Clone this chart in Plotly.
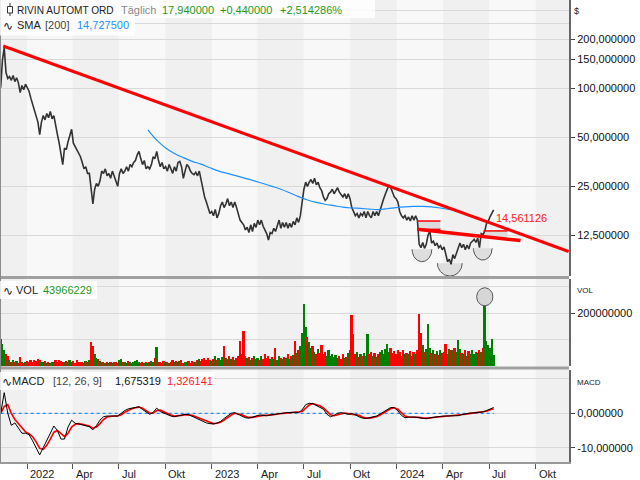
import math
import numpy as np
import pandas as pd
import plotly.graph_objects as go
from plotly.subplots import make_subplots

# ---------------- DATA ----------------
price_start = "2021-11-10"   # semi-weekly closes (every 3.5 days)
price_close = [
    101, 149, 178, 125, 115, 118, 112, 120, 110, 116,
    108, 94, 104, 98, 106, 101, 96, 87, 80, 75,
    68, 62, 52, 62, 68, 64, 70, 66, 72, 65,
    68, 58, 52, 46, 40, 34, 43, 42, 47, 52,
    56, 46, 44, 42, 40, 38, 35, 32, 33, 30,
    30, 25, 19.5, 24, 26, 25, 27, 31, 30, 32,
    29, 30, 28, 31, 29, 27, 25, 30, 32, 30,
    31, 33, 31, 34, 33, 35, 36, 39, 41, 37,
    34, 36, 32, 33, 32, 34, 38, 37, 41, 36,
    33, 35, 32, 33, 31, 34, 32, 30, 33, 31,
    35, 35.5, 33, 28, 31, 34, 33, 31, 30, 29.5,
    30.5, 29, 31, 27, 24, 21.5, 20, 18.5, 17, 17.5,
    16.5, 18, 16, 17, 19, 20, 18.5, 19.5, 21, 19,
    20, 18.5, 20, 18.5, 17, 15.5, 15, 14.5, 13.5, 14,
    13, 14.5, 13.2, 14.8, 14, 15.5, 14.5, 15.5, 14.2, 13.5,
    12.8, 11.7, 13, 12.8, 13.8, 13.2, 14.2, 15.5, 13.8, 15,
    14, 15, 13.8, 14.8, 14, 15.2, 14.5, 16, 15, 16.5,
    20, 24, 26.5, 25, 26.5, 27.5, 26, 28, 25.5, 26.5,
    24.5, 23.5, 21.5, 20.5, 21, 22.5, 23, 24, 22.5, 23.5,
    24.5, 23, 22, 21.5, 22.5, 21, 22.5, 21, 18.5, 17.5,
    16.5, 17, 16, 17, 16.5, 17.5, 16, 17.5, 16.5, 16,
    17.5, 16.5, 17.5, 16.5, 18, 19.5, 21, 22.5, 24, 25.5,
    24.5, 23, 21.5, 21, 20, 17.5, 16.5, 16, 16.5, 15.5,
    16.2, 15.3, 16.5, 15.5, 16.5, 15.5, 11, 10.5, 11.3, 10.4,
    11, 12.5, 13.3, 11.2, 11.5, 10.8, 11.2, 10.5, 10.8, 10.2,
    10.6, 9.6, 8.6, 8.9, 8.3, 9.5, 9.0, 9.7, 10.3, 11.2,
    10.5, 11, 10.2, 10.9, 10.3, 11.2, 11.5, 11.8, 11.3, 12,
    10.5, 12.8, 12.6, 13.3, 14.8, 15.3, 16.3, 17.0, 17.94,
]

volume_m = [
    103, 85, 60, 45, 38, 25, 18, 22, 15, 20,
    14, 35, 18, 12, 16, 20, 15, 22, 18, 25,
    20, 28, 24, 18, 16, 20, 14, 18, 12, 15,
    16, 22, 18, 24, 20, 18, 15, 20, 17, 24,
    16, 19, 14, 22, 17, 15, 18, 13, 20, 16,
    22, 90, 78, 45, 30, 28, 20, 15, 18, 14,
    16, 12, 17, 13, 15, 18, 14, 22, 28, 16,
    18, 14, 20, 16, 12, 15, 20, 25, 18, 14,
    16, 13, 18, 14, 17, 20, 15, 30, 74, 18,
    16, 14, 20, 15, 18, 13, 17, 22, 15, 19,
    16, 20, 25, 14, 18, 15, 21, 13, 19, 16,
    18, 22, 26, 20, 28, 32, 25, 30, 24, 20,
    28, 38, 25, 30, 22, 35, 78, 30, 26, 40,
    28, 36, 25, 30, 38, 94, 45, 132, 40, 30,
    35, 22, 30, 40, 26, 32, 24, 38, 28, 45,
    30, 40, 26, 35, 28, 70, 25, 38, 32, 28,
    35, 30, 45, 28, 38, 42, 96, 50, 60, 75,
    126, 235, 150, 110, 90, 70, 78, 55, 48, 65,
    50, 80, 45, 55, 40, 60, 38, 48, 35, 42,
    30, 38, 28, 45, 32, 36, 50, 60, 194, 122,
    45, 55, 35, 48, 40, 50, 38, 122, 45, 55,
    40, 52, 35, 45, 55, 60, 48, 65, 83, 55,
    70, 50, 58, 45, 62, 55, 40, 60, 48, 52,
    45, 58, 40, 55, 48, 60, 196, 126, 80, 55,
    65, 158, 70, 50, 60, 45, 58, 42, 60, 50,
    55, 83, 48, 65, 60, 60, 70, 55, 100, 65,
    52, 45, 60, 40, 58, 48, 62, 45, 55, 50,
    60, 55, 70, 245, 95, 80, 68, 103, 44,
]

# weekly MACD (12, 26, 9)
macd_line = [
    0, 6.0, 0.0, -3.5, -2.8, -4.5, -5.8, -5.8, -6.2, -8.0,
    -10.0, -12.1, -10.0, -8.0, -5.8, -3.7, -5.0, -7.5, -7.5, -4.0,
    -2.0, -2.9, -3.1, -3.4, -3.6, -3.9, -4.8, -3.6, -2.0, -1.0,
    -0.8, -0.8, -0.7, -0.8, 0.0, 0.8, 1.3, 1.5, 1.8, 1.9,
    1.1, 0.3, -0.3, 0.3, 1.5, 0.5, 0.0, -0.5, -0.8, -1.0,
    -0.7, -0.5, -0.3, -0.4, -0.9, -1.3, -1.8, -2.3, -2.8, -3.0,
    -3.1, -2.8, -2.4, -1.5, -0.7, 0.0, 0.2, -0.3, -0.7, -1.3,
    -1.4, -1.0, -0.8, -0.5, -0.6, -0.7, -0.5, -0.3, -0.1, 0.0,
    0.1, 0.2, 0.3, 0.3, 0.2, 1.0, 2.5, 2.9, 2.8, 2.3,
    1.9, 1.2, -0.3, -1.0, -0.6, 0.0, 0.2, 0.0, -0.3, -0.1,
    -0.4, -1.0, -1.4, -1.5, -1.3, -1.0, -0.8, -0.2, 0.5, 1.2,
    1.7, 1.6, 0.7, -0.6, -1.3, -1.1, -1.0, -1.1, -1.3, -1.5,
    -1.6, -1.3, -1.1, -1.0, -0.9, -0.8, -0.8, -0.7, -0.7, -0.7,
    -0.4, -0.1, 0.0, 0.1, 0.2, 0.3, 0.4, 0.8, 1.2, 1.675319,
]
macd_signal = [
    0, 2.0, 2.5, 0.0, -1.8, -3.0, -4.5, -5.4, -5.9, -6.8,
    -8.3, -10.2, -10.5, -9.3, -7.5, -5.5, -5.0, -6.0, -6.8, -5.8,
    -4.0, -3.2, -3.0, -3.2, -3.4, -3.7, -4.3, -4.0, -3.0, -1.8,
    -1.1, -0.9, -0.8, -0.8, -0.4, 0.3, 0.9, 1.3, 1.6, 1.8,
    1.5, 0.8, 0.1, 0.0, 0.8, 0.9, 0.4, -0.1, -0.5, -0.8,
    -0.8, -0.6, -0.4, -0.4, -0.6, -1.0, -1.4, -1.9, -2.4, -2.8,
    -3.0, -2.9, -2.6, -2.0, -1.2, -0.5, 0.0, -0.1, -0.4, -0.9,
    -1.2, -1.2, -1.0, -0.7, -0.6, -0.6, -0.6, -0.4, -0.2, -0.1,
    0.0, 0.1, 0.2, 0.3, 0.3, 0.5, 1.5, 2.4, 2.8, 2.6,
    2.2, 1.6, 0.6, -0.4, -0.7, -0.4, 0.0, 0.1, -0.1, -0.2,
    -0.3, -0.6, -1.1, -1.4, -1.4, -1.2, -1.0, -0.5, 0.1, 0.8,
    1.4, 1.6, 1.2, 0.2, -0.8, -1.1, -1.1, -1.1, -1.2, -1.4,
    -1.5, -1.4, -1.2, -1.1, -1.0, -0.9, -0.8, -0.8, -0.7, -0.7,
    -0.6, -0.3, -0.1, 0.0, 0.1, 0.2, 0.3, 0.6, 1.0, 1.326141,
]

# SMA 200, sampled every 5th semi-weekly point starting at index 83
sma_first_index = 83
sma_step = 5
sma_200 = [
    55.5, 48, 43.0, 39.8, 37.5, 35.6, 34.2, 32.5, 31.0, 30.0,
    29.0, 28.0, 27.0, 26.0, 25.0, 24.0, 22.8, 21.6, 20.6, 19.9,
    19.4, 19.0, 18.6, 18.4, 18.3, 18.1, 18.0, 18.2, 18.5, 18.7,
    18.8, 18.8, 18.7, 18.4, 18.0, 17.5, 16.9, 16.2, 15.3, 14.7275,
]

# drawing tools
trend_main_dates = ["2021-11-15", "2024-12-05"]
trend_main_vals = [181.9, 9.94]
trend_neck_dates = ["2024-02-10", "2024-09-01"]
trend_neck_vals = [13.6, 11.6]
range_boxes = [  # start, end, low, high
    ("2024-02-10", "2024-03-27", 13.6, 15.3),
    ("2024-06-20", "2024-08-06", 12.0, 13.3),
]
bowls = [  # start, end, top price, bottom price
    ("2024-01-31", "2024-03-10", 10.25, 8.61),
    ("2024-03-21", "2024-05-09", 8.42, 7.03),
    ("2024-05-31", "2024-07-07", 10.40, 8.81),
]
vol_marker = ("2024-06-22 12:00", 262e6, 16, 34e6)  # center date, center vol, half-width days, half-height

quarter_ticks = ["2022-01-01", "2022-04-01", "2022-07-01", "2022-10-01",
                 "2023-01-01", "2023-04-01", "2023-07-01", "2023-10-01",
                 "2024-01-01", "2024-04-01", "2024-07-01", "2024-10-01"]
quarter_labels = ["2022", "Apr", "Jul", "Okt", "2023", "Apr", "Jul", "Okt",
                  "2024", "Apr", "Jul", "Okt"]
shade_quarters = [("2021-10-01", "2022-01-01"), ("2022-04-01", "2022-07-01"),
                  ("2022-10-01", "2023-01-01"), ("2023-04-01", "2023-07-01"),
                  ("2023-10-01", "2024-01-01"), ("2024-04-01", "2024-07-01"),
                  ("2024-10-01", "2025-01-01")]

price_ticks = [12.5, 25, 50, 100, 150, 200]
price_ticktext = ["12,500000", "25,000000", "50,000000", "100,000000",
                  "150,000000", "200,000000"]
price_minor = [250, 300]
vol_ticks = [200e6]
vol_ticktext = ["200000000"]
vol_minor = [100e6, 300e6]
macd_ticks = [0, -10]
macd_ticktext = ["0,000000", "-10,000000"]
macd_minor = [10]

x_range = ["2021-11-08 16:00", "2024-12-05 17:00"]
price_range = [7.03, 348.7]
vol_range = [0, 329e6]
macd_range = [-14.16, 12.73]

# ---------------- FIGURE ----------------
W, H = 640, 480
ML, MR, MT, MB = 0, 71, 0, 18
PW, PH = W - ML - MR, H - MT - MB
FONT = "Liberation Sans, Arial, DejaVu Sans, sans-serif"


def px_x(px):
    return px / PW


def px_y(py):
    return (PH - py) / PH


dates = pd.date_range(price_start, periods=len(price_close), freq="84h")
macd_dates = pd.date_range(price_start, periods=len(macd_line), freq="7D")
sma_dates = dates[sma_first_index::sma_step][:len(sma_200)]

fig = make_subplots(rows=3, cols=1, shared_xaxes=True, vertical_spacing=0)

# range boxes (fills)
for (d0, d1, lo, hi) in range_boxes:
    fig.add_trace(go.Scatter(x=[d0, d1, d1, d0, d0], y=[lo, lo, hi, hi, lo],
                             fill="toself", fillcolor="#dcdcdc", mode="none",
                             hoverinfo="skip", showlegend=False), row=1, col=1)

# bowls
t = np.linspace(0, np.pi, 60)
for (d0, d1, top, bot) in bowls:
    s0, s1 = pd.Timestamp(d0), pd.Timestamp(d1)
    c = s0 + (s1 - s0) / 2
    half = (s1 - s0) / 2
    xs = [c + half * float(np.cos(a)) for a in t]
    ly = math.log10(top) - (math.log10(top) - math.log10(bot)) * np.sin(t)
    ys = list(10 ** ly)
    fig.add_trace(go.Scatter(x=xs + [xs[0]], y=ys + [ys[0]], fill="toself",
                             fillcolor="#dedede", mode="none", hoverinfo="skip",
                             showlegend=False), row=1, col=1)
    fig.add_trace(go.Scatter(x=xs, y=ys, mode="lines",
                             line=dict(color="#555555", width=1), hoverinfo="skip",
                             showlegend=False), row=1, col=1)

# price
fig.add_trace(go.Scatter(x=dates, y=price_close, mode="lines",
                         line=dict(color="#333333", width=1.6), showlegend=False),
              row=1, col=1)
# SMA
fig.add_trace(go.Scatter(x=sma_dates, y=sma_200, mode="lines",
                         line=dict(color="#1e90ff", width=1.2, shape="spline"),
                         showlegend=False), row=1, col=1)
# trend lines
fig.add_trace(go.Scatter(x=trend_main_dates, y=trend_main_vals, mode="lines",
                         line=dict(color="#ff0000", width=3), showlegend=False),
              row=1, col=1)
fig.add_trace(go.Scatter(x=trend_neck_dates, y=trend_neck_vals, mode="lines",
                         line=dict(color="#ff0000", width=3.5), showlegend=False),
              row=1, col=1)
for k, (d0, d1, lo, hi) in enumerate(range_boxes):
    fig.add_trace(go.Scatter(x=[d0, d1], y=[hi, hi], mode="lines",
                             line=dict(color="#ff0000", width=1.5), showlegend=False),
                  row=1, col=1)
    if k == 0:
        fig.add_trace(go.Scatter(x=[d0, d1], y=[lo, lo], mode="lines",
                                 line=dict(color="#ff0000", width=1.5), showlegend=False),
                      row=1, col=1)

# volume marker ellipse
vc, vv, vhw, vhh = vol_marker
vcs = pd.Timestamp(vc)
tt = np.linspace(0, 2 * np.pi, 60)
ex = [vcs + pd.Timedelta(days=vhw * float(np.cos(a))) for a in tt]
ey = list(vv + vhh * np.sin(tt))
fig.add_trace(go.Scatter(x=ex, y=ey, fill="toself", fillcolor="#d6d6d6", mode="lines",
                         line=dict(color="#555555", width=1), hoverinfo="skip",
                         showlegend=False), row=2, col=1)

# volume bars
vol_colors = ["#008000" if i == 0 or price_close[i] >= price_close[i - 1] else "#ff0000"
              for i in range(len(price_close))]
fig.add_trace(go.Bar(x=dates, y=[v * 1e6 for v in volume_m], marker_color=vol_colors,
                     marker_line_width=0, width=3.5 * 86400000, showlegend=False),
              row=2, col=1)

# MACD
fig.add_trace(go.Scatter(x=[dates[0], dates[-1]], y=[0, 0], mode="lines",
                         line=dict(color="#1e90ff", width=1.3, dash="dot"),
                         showlegend=False), row=3, col=1)
fig.add_trace(go.Scatter(x=macd_dates, y=macd_signal, mode="lines",
                         line=dict(color="#ff0000", width=1.6), showlegend=False),
              row=3, col=1)
fig.add_trace(go.Scatter(x=macd_dates, y=macd_line, mode="lines",
                         line=dict(color="#000000", width=1), showlegend=False),
              row=3, col=1)

GRID = "#d9d9d9"
yax_common = dict(side="right", ticks="outside", ticklen=4, tickcolor="#444",
                  showline=True, linecolor="#666666", linewidth=2, zeroline=False,
                  gridcolor=GRID, gridwidth=1, tickfont=dict(size=11, color="#111"),
                  fixedrange=True)

fig.update_layout(
    width=W, height=H, margin=dict(l=ML, r=MR, t=MT, b=MB),
    paper_bgcolor="white", plot_bgcolor="#f8f8f8",
    font=dict(family=FONT, size=11, color="#222"),
    bargap=0, showlegend=False,
    yaxis=dict(domain=[px_y(276), 1.0], type="log",
               range=[math.log10(price_range[0]), math.log10(price_range[1])],
               tickvals=price_ticks, ticktext=price_ticktext,
               minor=dict(tickvals=price_minor, showgrid=True, gridcolor=GRID, ticks=""),
               **yax_common),
    yaxis2=dict(domain=[px_y(366.3), px_y(279)], range=vol_range,
                tickvals=vol_ticks, ticktext=vol_ticktext,
                minor=dict(tickvals=vol_minor, showgrid=True, gridcolor=GRID, ticks=""),
                **yax_common),
    yaxis3=dict(domain=[0, px_y(369.5)], range=macd_range,
                tickvals=macd_ticks, ticktext=macd_ticktext,
                minor=dict(tickvals=macd_minor, showgrid=True, gridcolor=GRID, ticks=""),
                **yax_common),
)
for ax in ["xaxis", "xaxis2"]:
    fig.layout[ax].update(range=x_range, showgrid=False, showticklabels=False,
                          ticks="", zeroline=False)
fig.layout.xaxis3.update(range=x_range, showgrid=False, tickvals=quarter_ticks,
                         ticks="outside", ticklen=5, tickcolor="#555",
                         showticklabels=False, showline=True, linecolor="#999999",
                         linewidth=2, zeroline=False)

shapes = []
for (q0, q1) in shade_quarters:
    shapes.append(dict(type="rect", xref="x", yref="paper", x0=max(q0, x_range[0]),
                       x1=min(q1, x_range[1]), y0=0, y1=1, fillcolor="#f0f0f0",
                       line=dict(width=0), layer="below"))
# pane separators and borders
for py in (277.5, 367.9):
    shapes.append(dict(type="line", xref="paper", yref="paper", x0=0, x1=1,
                       y0=px_y(py), y1=px_y(py), line=dict(color="#a0a0a0", width=3)))
shapes.append(dict(type="line", xref="paper", yref="paper", x0=px_x(0.5), x1=px_x(0.5),
                   y0=0, y1=1, line=dict(color="#8a8a8a", width=1)))
# legend boxes
for (x0, y0, x1, y1) in [(0, 0, 375, 18), (0, 18, 135, 35.5), (0, 281, 97, 299),
                         (0, 372, 214, 390)]:
    shapes.append(dict(type="rect", xref="paper", yref="paper", x0=px_x(x0), x1=px_x(x1),
                       y0=px_y(y1), y1=px_y(y0), fillcolor="rgba(255,255,255,0.82)",
                       line=dict(width=0)))
# candle icon
shapes.append(dict(type="line", xref="paper", yref="paper", x0=px_x(10), x1=px_x(10),
                   y0=px_y(16), y1=px_y(3), line=dict(color="#333", width=1)))
shapes.append(dict(type="rect", xref="paper", yref="paper", x0=px_x(7.5), x1=px_x(12.5),
                   y0=px_y(13), y1=px_y(6.5), fillcolor="white",
                   line=dict(color="#333", width=1)))
fig.update_layout(shapes=shapes)

anns = []


def txt(text, xpx, ypx, color="#222", size=11, anchor="left"):
    anns.append(dict(text=text, x=px_x(xpx), y=px_y(ypx), xref="paper", yref="paper",
                     xanchor=anchor, yanchor="middle", showarrow=False,
                     font=dict(family=FONT, size=size, color=color), borderpad=0))


GREEN = "#1f9a1f"
txt("RIVIN AUTOMT ORD", 16, 10, "#222", 10.1)
txt("Täglich", 120, 10, "#8a8a8a")
txt("17,940000", 161, 10, GREEN)
txt("+0,440000", 219, 10, GREEN)
txt("+2,514286%", 279, 10, GREEN)
txt("∿", 2, 26, "#222", 12)
txt("SMA", 16, 25, "#222")
txt("[200]", 44, 25, "#444")
txt("14,727500", 76, 25, "#1e90ff")
txt("∿", 2, 291, "#222", 12)
txt("VOL", 15, 290, "#222")
txt("43966229", 42, 290, GREEN)
txt("∿", 1, 382, "#222", 12)
txt("MACD", 11, 381, "#222")
txt("[12, 26, 9]", 52, 381, "#444")
txt("1,675319", 114, 381, "#111")
txt("1,326141", 166, 381, "#ff1a1a")
txt("$", 573, 11, "#222", 9)
txt("VOL", 576, 290, "#222", 8)
txt("MACD", 576, 382, "#222", 8)

for d, lab in zip(quarter_ticks, quarter_labels):
    anns.append(dict(text=lab, x=d, y=0, xref="x3", yref="paper", xanchor="left",
                     yanchor="top", xshift=1, yshift=-4, showarrow=False,
                     font=dict(family=FONT, size=11, color="#222")))
# trendline value label
anns.append(dict(text="14,561126", x=dates[-1], y=math.log10(16.0), xref="x", yref="y",
                 xanchor="left", yanchor="middle", showarrow=False,
                 font=dict(family=FONT, size=11, color="#ff2020")))
fig.update_layout(annotations=anns)

fig.write_html("out.html")
